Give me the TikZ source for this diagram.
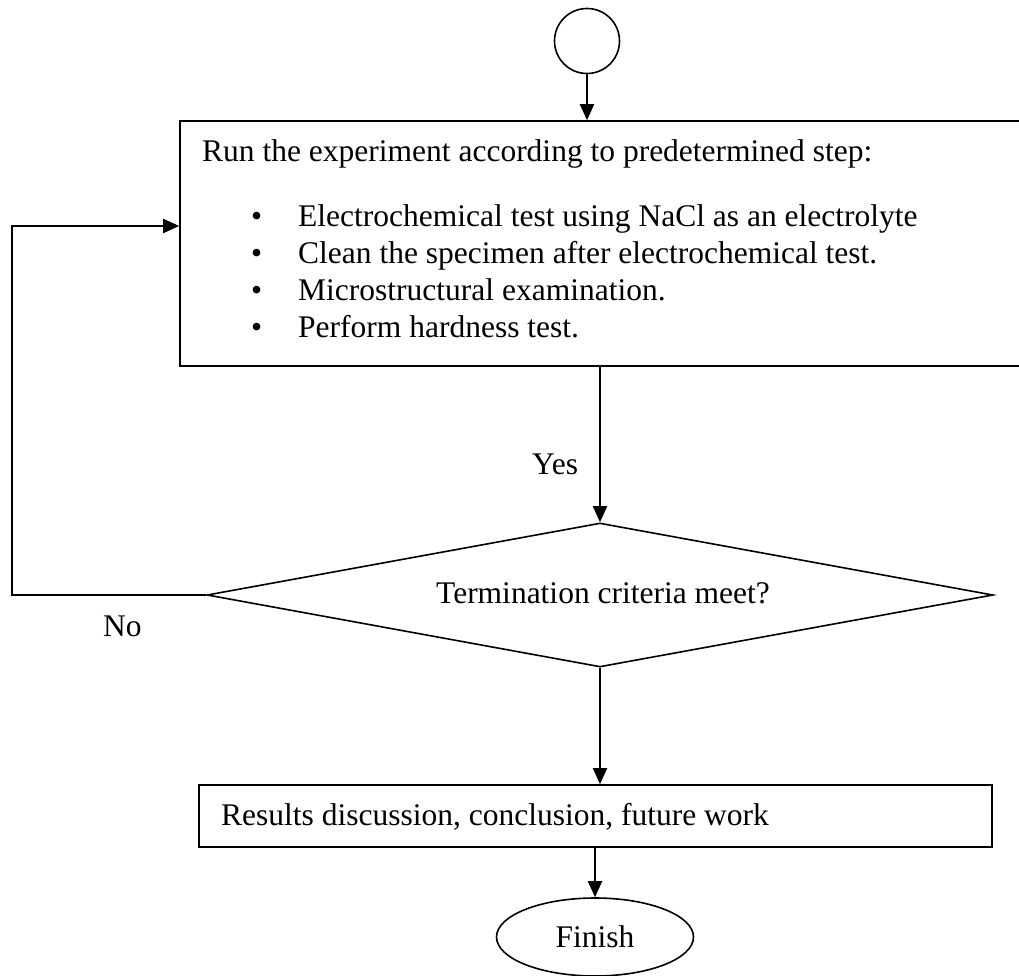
\documentclass[tikz,border=0pt]{standalone}
\usepackage{fontspec}
\setmainfont{Liberation Serif}
\usetikzlibrary{arrows.meta,shapes.geometric}
\begin{document}
\begin{tikzpicture}[x=1pt,y=-1pt,
  every node/.style={font=\fontsize{31.5}{37}\selectfont, inner sep=0pt},
  shapeline/.style={draw, line width=1.6pt},
  arr/.style={line width=1.9pt, -{Triangle[length=16pt,width=14pt]}},
  lbl/.style={anchor=base west}]
\useasboundingbox (0,0) rectangle (1019,976);
% shapes
\node[shapeline, circle, minimum size=65pt] (start) at (587,41) {};
\node[shapeline, rectangle, minimum width=840pt, minimum height=245pt] (run) at (600,243.5) {};
\node[shapeline, diamond, shape aspect=5.46, minimum width=786pt, minimum height=144pt] (dec) at (600,595) {};
\node[anchor=base] (dect) at (603,603) {Termination criteria meet?};
\node[shapeline, rectangle, minimum width=793pt, minimum height=62pt] (res) at (595.5,816) {};
\node[shapeline, ellipse, minimum width=197pt, minimum height=78pt] (fin) at (595,937) {Finish};
% texts in the step box
\node[lbl] (t0) at (202,162) {Run the experiment according to predetermined step:};
\node[lbl] (b1) at (251,226) {\textbullet};
\node[lbl] (t1) at (298,226) {Electrochemical test using NaCl as an electrolyte};
\node[lbl] (b2) at (251,263) {\textbullet};
\node[lbl] (t2) at (298,263) {Clean the specimen after electrochemical test.};
\node[lbl] (b3) at (251,300) {\textbullet};
\node[lbl] (t3) at (298,300) {Microstructural examination.};
\node[lbl] (b4) at (251,337) {\textbullet};
\node[lbl] (t4) at (298,337) {Perform hardness test.};
\node[lbl] (rt) at (221,825) {Results discussion, conclusion, future work};
% labels
\node[lbl] (yes) at (532,474) {Yes};
\node[lbl] (no) at (103,636) {No};
% connectors
\draw[arr] (start.south) -- (start.south |- run.north);
\draw[arr] (run.south -| dec.north) -- (dec.north);
\coordinate (fbl) at (12,595);
\coordinate (fbt) at (12,226);
\draw[arr] (dec.west) -- (fbl) -- (fbt) -- (fbt -| run.west);
\draw[arr] (dec.south) -- (dec.south |- res.north);
\draw[arr] (res.south -| fin.north) -- (fin.north);
\end{tikzpicture}
\end{document}
